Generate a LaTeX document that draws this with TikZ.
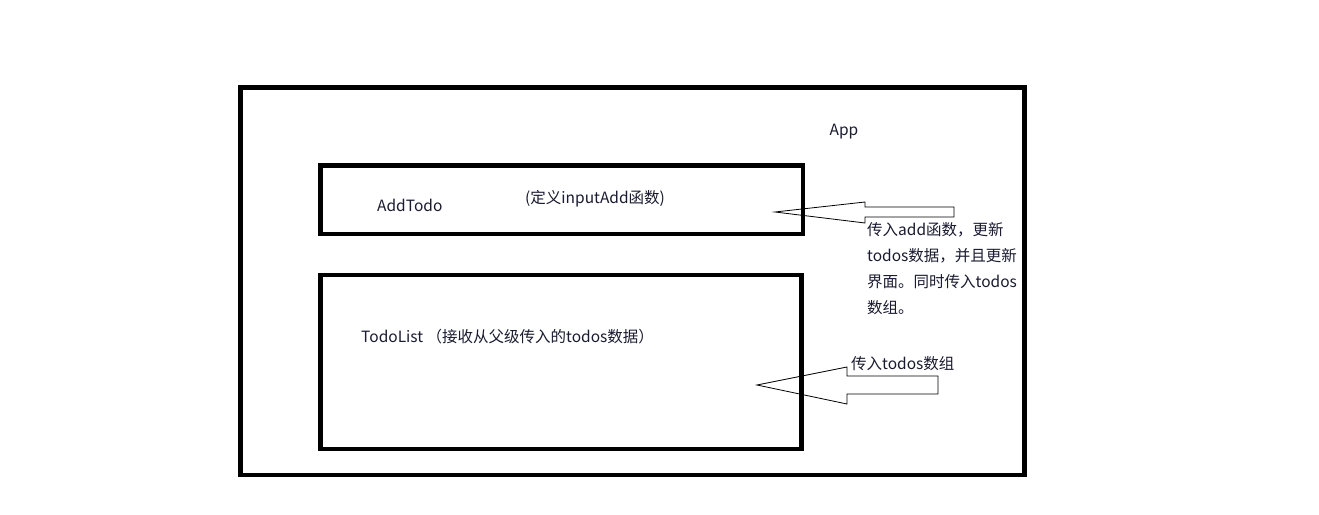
\documentclass[tikz,border=0pt]{standalone}
\usepackage{fontspec}
\setmainfont{Noto Sans CJK SC}
\begin{document}
\begin{tikzpicture}[x=1pt,y=-1pt,
  frame/.style={draw=black,line width=4.5pt,inner sep=0pt,outer sep=0pt,anchor=north west},
  lbl/.style={text=textc,font=\fontsize{15.5}{18}\selectfont,inner sep=0pt},
  flow/.style={draw=black,line width=0.8pt}]
\definecolor{textc}{HTML}{1A1A30}
\useasboundingbox (0,0) rectangle (1319,514);
\node[frame,minimum width=784pt,minimum height=387.5pt] (app) at (240.3,87.5) {};
\node[frame,minimum width=482.5pt,minimum height=68.7pt] (add) at (320.5,165.3) {};
\node[frame,minimum width=481pt,minimum height=174pt] (list) at (320.5,275) {};
\node[lbl] (applbl) at (844,132) {App};
\node[lbl,anchor=west] (addlbl) at (377,205) {AddTodo};
\node[lbl,anchor=west] (addnote) at (525,199) {(定义inputAdd函数)};
\node[lbl,anchor=west] (listlbl) at (361,337) {TodoList （接收从父级传入的todos数据）};
\node[lbl,anchor=north west,align=left,font=\fontsize{15.5}{26}\selectfont] (note1) at (867,222)
  {传入add函数，更新\\todos数据，并且更新\\界面。同时传入todos\\数组。};
\node[lbl,anchor=west] (note2) at (851,364) {传入todos数组};
\coordinate (t1) at (775,212);
\coordinate (t2) at (757,385);
\draw[flow] (t1) -- (865,202) -- (865,207) -- (954,207) -- (954,217) -- (865,217) -- (865,223) -- cycle;
\draw[flow] (t2) -- (847,367) -- (847,376) -- (938,376) -- (938,394) -- (847,394) -- (847,404) -- cycle;
\end{tikzpicture}
\end{document}
